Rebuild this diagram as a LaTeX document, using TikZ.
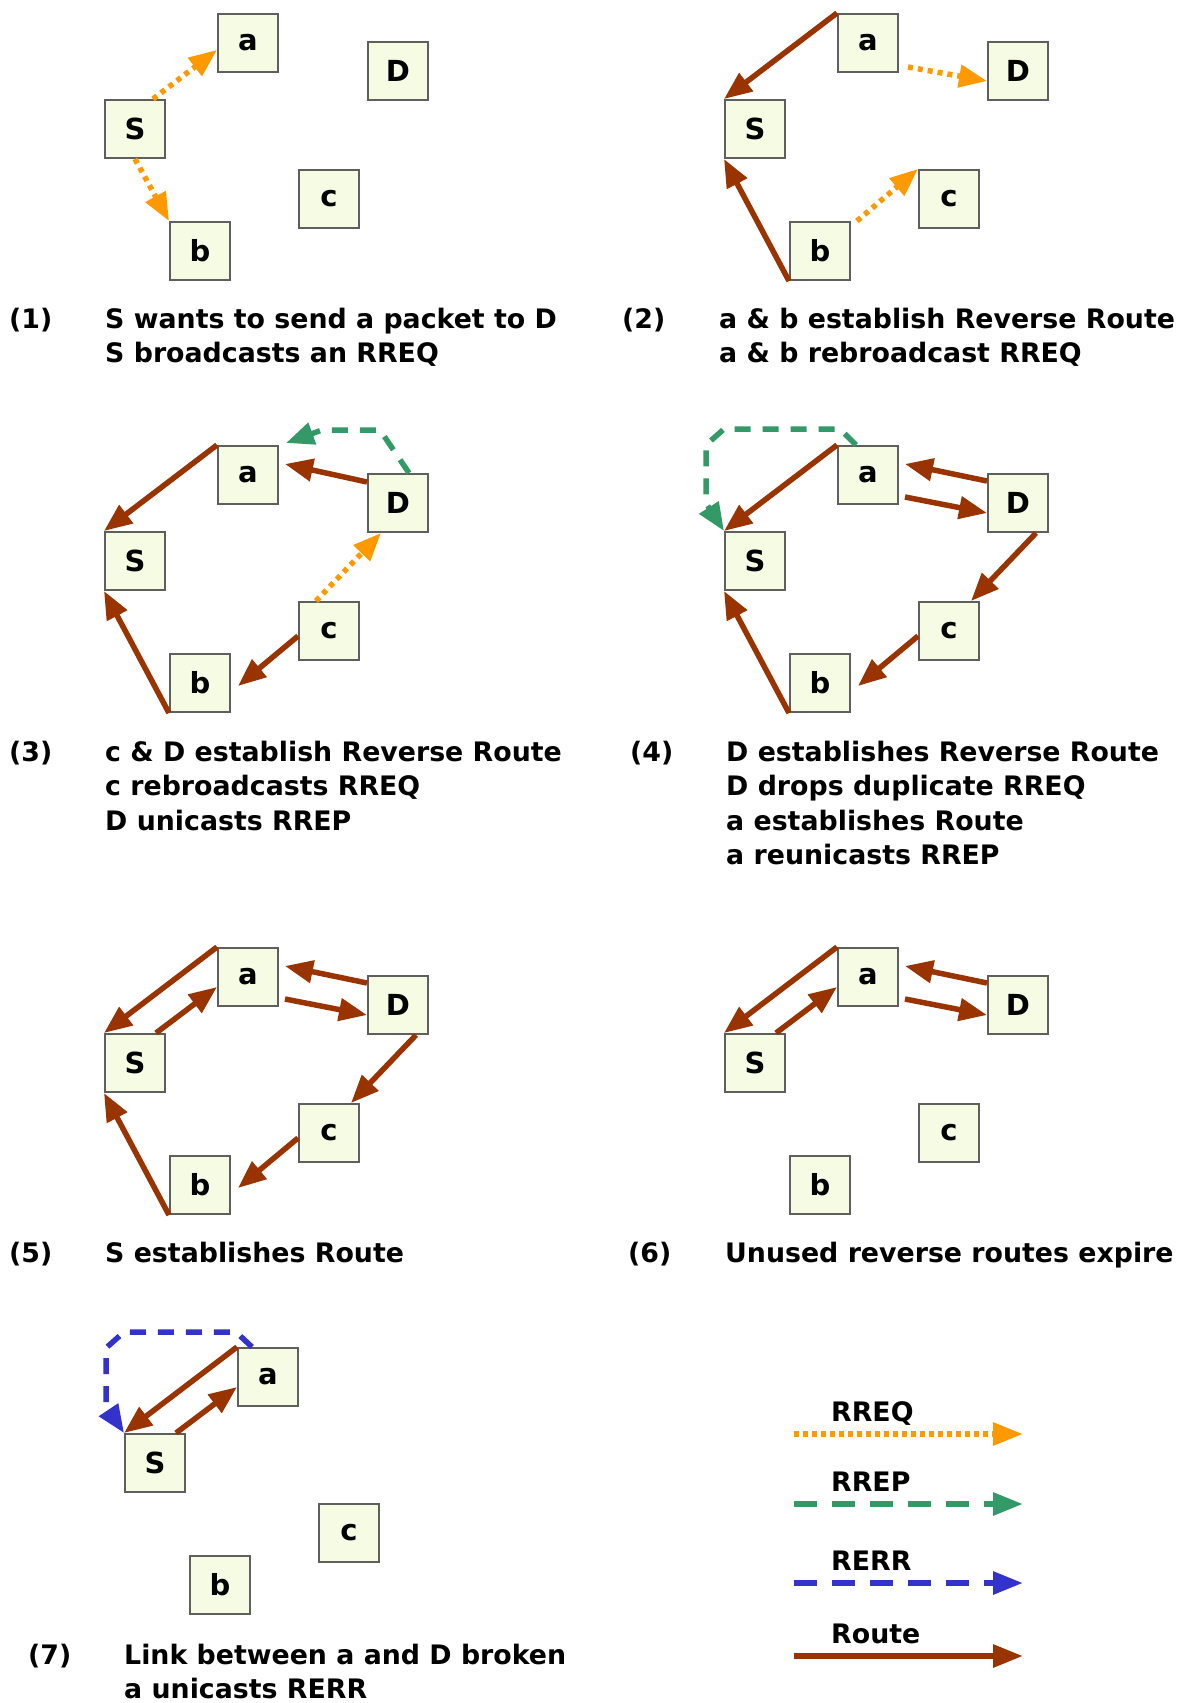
\documentclass[tikz,border=0pt]{standalone}
\usepackage{fontspec}
\setmainfont{DejaVu Sans}
\usetikzlibrary{arrows.meta}

\definecolor{rreqc}{RGB}{255,153,0}
\definecolor{rrepc}{RGB}{51,153,102}
\definecolor{rerrc}{RGB}{51,51,204}
\definecolor{routec}{RGB}{153,51,0}
\definecolor{hostfill}{RGB}{246,252,228}
\definecolor{hostdraw}{RGB}{95,95,95}

\begin{document}
\begin{tikzpicture}[
    x=1pt, y=-1pt,
    host/.style = {rectangle, draw=hostdraw, fill=hostfill, line width=2pt, minimum width=60pt, minimum height=58pt, inner sep=0pt, font=\bfseries\fontsize{29}{30}\selectfont},
    msg/.style = {line width=5.5pt, -{Triangle[length=28pt, width=22pt]}},
    route/.style = {msg, draw=routec},
    rreq/.style = {msg, draw=rreqc, dash pattern=on 5pt off 5pt},
    rrep/.style = {msg, draw=rrepc, dash pattern=on 16pt off 12pt},
    rerr/.style = {msg, draw=rerrc, dash pattern=on 16pt off 12pt},
    legendline/.style = {line width=6pt, -{Triangle[length=30pt, width=22pt]}},
    keydot/.style = {dash pattern=on 5pt off 4pt},
    keydash/.style = {dash pattern=on 23pt off 15pt},
    captxt/.style = {anchor=base west, inner sep=0pt, font=\bfseries\fontsize{26.8}{32}\selectfont},
]
    \useasboundingbox (0,0) rectangle (1190,1703);

    % the five hosts, once per step
    \foreach \p/\dx/\dy in {1/0/0, 2/620/0, 3/0/432, 4/620/432, 5/0/934, 6/620/934}
        \foreach \n/\x/\y in {a/248/43, D/398/71, S/135/129, c/329/199, b/200/251}
            \node[host] (\n\p) at (\x+\dx, \y+\dy) {\n};
    % step 7: D is gone
    \foreach \n/\x/\y in {a/248/43, S/135/129, c/329/199, b/200/251}
        \node[host] (\n7) at (\x+20, \y+1334) {\n};

    % (1)
    \draw[rreq] ([xshift=18pt]S1.north) -- ([yshift=-7pt]a1.west);
    \draw[rreq] (S1.south) -- (b1.north west);

    % (2)
    \draw[route] (a2.north west) -- (S2.north west);
    \draw[rreq] ([xshift=9pt,yshift=-24pt]a2.east) -- ([yshift=-10pt]D2.west);
    \draw[rreq] ([xshift=6pt]b2.north east) -- (c2.north west);

    % (3)
    \draw[route] (a3.north west) -- (S3.north west);
    \draw[route] ([yshift=21pt]D3.west) -- ([xshift=6pt,yshift=11pt]a3.east);
    \draw[rreq] ([xshift=-13pt]c3.north) -- ([xshift=-17pt]D3.south);
    \draw[rrep] ([xshift=11pt]D3.north) -- ++(-29,-43) -- ++(-58,0) -- ([xshift=7pt,yshift=2pt]a3.north east);

    % (4)
    \draw[route] (a4.north west) -- (S4.north west);
    \draw[rrep] ([xshift=-12pt]a4.north) -- ++(-16,-16) coordinate (t4) -- (t4 -| S4.north west) -- ++(-18,16) -- ++(0,58) -- (S4.north west);

    % (5), (6) and (7): S has its route to a
    \foreach \p in {5,6,7} {
        \draw[route] (a\p.north west) -- (S\p.north west);
        \draw[route] ([xshift=21pt]S\p.north) -- ([yshift=-10pt]a\p.west);
    }
    \draw[rerr] ([xshift=-16pt]a7.north) -- ++(-16,-15) coordinate (t7) -- (t7 -| S7.north west) -- ++(-18,16) -- ++(0,58) -- (S7.north west);

    % routes shared by several steps
    \foreach \p in {2,3,4,5}
        \draw[route] (b\p.south west) -- (S\p.south west);
    \foreach \p in {3,4,5}
        \draw[route] ([yshift=-5pt]c\p.west) -- ([xshift=7pt,yshift=-3pt]b\p.east);
    \foreach \p in {4,5}
        \draw[route] ([xshift=18pt]D\p.south) -- ([xshift=22pt]c\p.north);
    \foreach \p in {4,5,6} {
        \draw[route] ([yshift=22pt]D\p.west) -- ([xshift=6pt,yshift=11pt]a\p.east);
        \draw[route] ([xshift=6pt,yshift=-22pt]a\p.east) -- ([yshift=-10pt]D\p.west);
    }

    % captions
    \node[captxt] (n1) at (9,328) {(1)};
    \foreach \t [count=\i] in {S wants to send a packet to D, S broadcasts an RREQ}
        \node[captxt] (t1-\i) at (105, 328+34.5*\i-34.5) {\t};
    \node[captxt] (n2) at (622,328) {(2)};
    \foreach \t [count=\i] in {a \& b establish Reverse Route, a \& b rebroadcast RREQ}
        \node[captxt] (t2-\i) at (719, 328+34.5*\i-34.5) {\t};
    \node[captxt] (n3) at (9,761) {(3)};
    \foreach \t [count=\i] in {c \& D establish Reverse Route, c rebroadcasts RREQ, D unicasts RREP}
        \node[captxt] (t3-\i) at (105, 761+34.5*\i-34.5) {\t};
    \node[captxt] (n4) at (630,761) {(4)};
    \foreach \t [count=\i] in {D establishes Reverse Route, D drops duplicate RREQ, a establishes Route, a reunicasts RREP}
        \node[captxt] (t4-\i) at (726, 761+34.5*\i-34.5) {\t};
    \node[captxt] (n5) at (9,1262) {(5)};
    \node[captxt] (t5-1) at (105,1262) {S establishes Route};
    \node[captxt] (n6) at (628,1262) {(6)};
    \node[captxt] (t6-1) at (725,1262) {Unused reverse routes expire};
    \node[captxt] (n7) at (28,1664) {(7)};
    \foreach \t [count=\i] in {Link between a and D broken, a unicasts RERR}
        \node[captxt] (t7-\i) at (124, 1664+34.5*\i-34.5) {\t};

    % legend
    \foreach \kind/\dsh/\txt/\y [count=\i] in {rreq/keydot/RREQ/1434, rrep/keydash/RREP/1504, rerr/keydash/RERR/1583, route/solid/Route/1656} {
        \coordinate (key\i-w) at (794,\y);
        \coordinate (key\i-e) at (1023,\y);
        \draw[\kind, legendline, \dsh] (key\i-w) -- (key\i-e);
        \node[captxt] (key\i-txt) at (831,\y-13) {\txt};
    }
\end{tikzpicture}
\end{document}
